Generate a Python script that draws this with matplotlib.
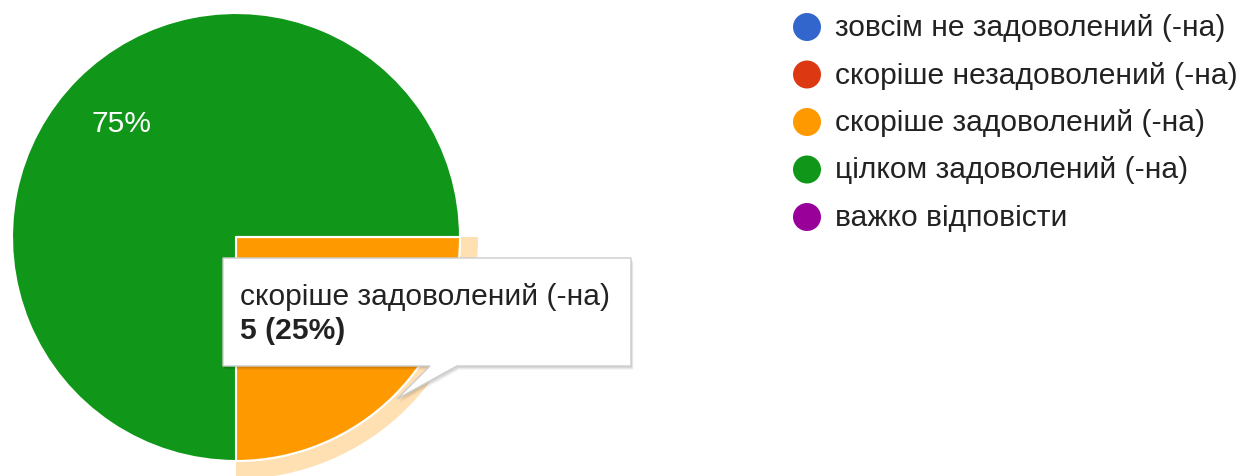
import numpy as np
import matplotlib
matplotlib.use("Agg")
import matplotlib.pyplot as plt
from matplotlib.patches import Wedge, Circle, Polygon

plt.rcParams['font.family'] = ['Liberation Sans', 'DejaVu Sans']

# -------------------------
# Data
# -------------------------
labels = [
    "зовсім не задоволений (-на)",
    "скоріше незадоволений (-на)",
    "скоріше задоволений (-на)",
    "цілком задоволений (-на)",
    "важко відповісти",
]
counts = [0, 0, 5, 15, 0]
colors = ["#3366cc", "#dc3912", "#ff9900", "#109618", "#990099"]
highlight = 2  # slice under the tooltip

FS = 21.6
W, H = 1242, 477
fig = plt.figure(figsize=(W / 100, H / 100), dpi=100)
ax = fig.add_axes([0, 0, 1, 1])

# pie geometry in pixels (y measured from top)
cx, cy, r = 236, 238, 224
center = (cx, H - cy)

total = sum(counts)

def pct_label(p):
    return f"{p:.0f}%" if p > 0 else ""

wedges, texts, autotexts = ax.pie(
    counts, colors=colors, startangle=0, counterclock=False,
    center=center, radius=r, autopct=pct_label, pctdistance=0.72,
    wedgeprops=dict(edgecolor="white", linewidth=1.5),
    textprops=dict(color="white", fontsize=FS), frame=True)
for w in wedges:
    w.set_zorder(2)
for t in autotexts:
    t.set_zorder(3)
# label of the hovered slice sits under the tooltip
autotexts[highlight].set_visible(False)

# hover halo round the highlighted slice
hw = wedges[highlight]
halo = Wedge(center, r + 18, hw.theta1, hw.theta2, width=17,
             facecolor="#ffe0b2", edgecolor="none", zorder=1)
ax.add_patch(halo)

# legend
leg_x, leg_y0, leg_dy = 807, 28, 47.5
for i, (lab, col) in enumerate(zip(labels, colors)):
    y = H - (leg_y0 + i * leg_dy)
    ax.add_patch(Circle((leg_x, y), 14, facecolor=col, edgecolor="none", zorder=5))
    ax.text(leg_x + 28, y, lab, fontsize=FS, color="#222222", va="center", ha="left", zorder=5)

# tooltip with tail
bx0, bx1, by0, by1 = 223, 631, 259, 367
tail = [(457, 367), (397, 400), (430, 367)]
pts = [(bx0, by0), (bx1, by0), (bx1, by1)] + tail + [(bx0, by1)]
pts = [(x, H - y) for x, y in pts]
for k, a in [(4, 0.04), (3, 0.05), (2, 0.07)]:
    sh = Polygon([(x + k * 0.6, y - k) for x, y in pts], closed=True,
                 facecolor="black", alpha=a, edgecolor="none", zorder=6)
    ax.add_patch(sh)
ax.add_patch(Polygon(pts, closed=True, facecolor="white", edgecolor="#cccccc",
                     linewidth=1, zorder=7))
ax.text(240, H - 297, labels[highlight], fontsize=FS, color="#222222",
        va="center", ha="left", zorder=8)
ax.text(240, H - 331, f"{counts[highlight]} ({counts[highlight] / total * 100:.0f}%)",
        fontsize=FS, fontweight="bold", color="#222222", va="center", ha="left", zorder=8)

ax.set_xlim(0, W)
ax.set_ylim(0, H)
ax.set_aspect("equal")
ax.axis("off")

fig.savefig("out.png", dpi=100, facecolor="white")
